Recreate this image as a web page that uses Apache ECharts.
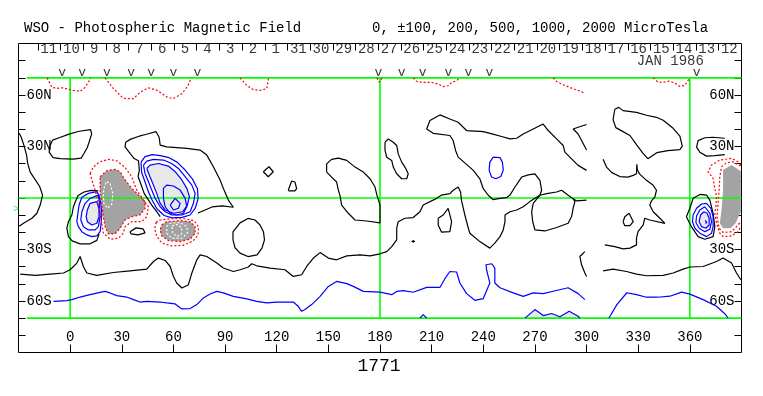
<!DOCTYPE html>
<html><head><meta charset="utf-8">
<script src="https://cdn.jsdelivr.net/npm/echarts@6/dist/echarts.min.js"></script>
<style>html,body{margin:0;padding:0;background:#fff}#c{width:763px;height:396px}</style>
</head><body><div id="c"></div>
<script>
// ---------- texts / ticks ----------
const titleText = 'WSO - Photospheric Magnetic Field';
const scaleText = '0, \u00B1100, 200, 500, 1000, 2000 MicroTesla';
const rotationText = '1771';
const monthText = 'JAN 1986';
const lonTicks = [0,30,60,90,120,150,180,210,240,270,300,330,360];
const latTicks = [-80,-70,-60,-50,-40,-30,-20,-10,0,10,20,30,40,50,60,70,80];
const latLabels = [60,30,-30,-60];
const dayNumbers = ['11','10','9','8','7','6','5','4','3','2','1','31','30','29','28','27','26','25','24','23','22','21','20','19','18','17','16','15','14','13','12'];
const dayTicks = [-18.75,-5.57,7.61,20.79,33.97,47.15,60.33,73.51,86.69,99.87,113.05,126.23,139.41,152.59,165.77,178.95,192.13,205.31,218.49,231.67,244.85,258.03,271.21,284.39,297.57,310.75,323.93,337.11,350.29,363.47,376.65];
const vMarks = [-4.6,7,21.3,35.4,47,60,73.9,179,192.6,204.8,219.7,231.3,243.5,363.9];
const greenLat = [70,0,-70];
const greenLon = [0,180,360];

// ---------- negative (red dotted) contours ----------
const red1 = [[-13.4,70],[-10.5,64.4],[-7.5,63.9],[-4.1,64.2],[1.2,62.7],[5.8,62.1],[8.7,64.4],[11.6,69.1],[12,70]];
const red2 = [[20.3,70],[25,63.9],[30.8,58.1],[36.6,57.8],[40.6,61.5],[45.3,64.2],[50.5,62.7],[56.3,58.8],[59.8,57.9],[65,60.8],[68.5,65.6],[70.3,70]];
const red3 = [[98.7,70],[102.6,65.6],[106.4,63.1],[110.3,62.7],[114.2,63.7],[115.1,68.5],[115.1,70]];
const red3b = [[178.3,70],[179.3,67.5],[180.5,68.5],[181.2,70]];
const red4 = [[199.3,70],[201.3,67.9],[205.1,67.3],[210,67.3],[213.8,66.4],[216.7,64.9],[219.6,65.4],[221.6,67.3],[224.5,68.3],[226.4,70]];
const red5 = [[280.6,70],[282.6,67.9],[286.4,66],[290.3,64.4],[294.2,62.9],[297.1,62.1],[299,60.6]];
const red6 = [[338.7,70],[341.6,67.5],[344.5,67.5],[348.4,68.1],[351.3,66.9],[354.2,65],[357.1,65.6],[359,68.5],[360,70]];
const redL1 = [[11.6,14.3],[13.5,18.2],[17.4,21.1],[22.2,22.5],[27.1,21.7],[31.9,17.8],[35.8,12.4],[38.7,4.6],[42.6,-1.2],[45.5,-5.1],[44.5,-10.9],[41.6,-13.8],[35.8,-13.8],[31.9,-16.7],[30.9,-20.5],[28,-23.4],[23.2,-24],[19.3,-20.5],[18.4,-14.7],[17.4,-8.9],[16.4,-3.1],[14.5,4.6],[12.6,10.5]];
const redL2 = [[17.4,12.4],[21.3,15.9],[26.1,16.7],[29,15.3],[31.9,10.5],[35.8,5.6],[39.7,1.7],[43.5,-2.1],[43.5,-6],[40.6,-9.9],[35.8,-10.9],[31.9,-12.8],[29,-17.6],[26.1,-20.9],[22.2,-20.9],[20.3,-16.7],[19.3,-10.9],[18.4,-3.1],[17.4,4.6]];
const redB1 = [[49.9,-14.2],[52.3,-12.8],[58.1,-12.1],[66.8,-12.1],[72,-13.3],[74.6,-16.9],[74.3,-21.5],[71.4,-25],[65.6,-27.6],[58.6,-27.9],[53.1,-26.1],[50.2,-22.1],[49.1,-18]];
const redB2 = [[53.2,-15.7],[56.1,-13.8],[63.9,-13.2],[69.7,-13.8],[72.6,-16.7],[72.6,-20.5],[69.7,-24],[63.9,-25.4],[57.1,-24.8],[53.2,-22.1],[52.3,-18.6]];
const redE1 = [[389.6,19.2],[388,21.1],[384.2,23.1],[377.4,22.1],[372.6,19.2],[370.6,15.3],[373.5,11.4],[374.5,5.6],[375.5,0.8],[375.1,-5.1],[374.5,-8.9],[375.5,-14.7],[377.4,-20.5],[379.3,-22.5],[384.2,-22.1],[388,-19.6],[389.6,-16.7]];
const redE2 = [[389.6,18.6],[388.6,19.2],[385.1,21.1],[381.3,20.5],[378.4,18.2],[377.4,12.4],[377,4.6],[376.4,-3.1],[375.8,-10.9],[377,-17.6],[379.3,-20.1],[384.2,-19.6],[387.1,-16.7],[389.6,-13.9]];
const greyE = [[379.3,16.3],[384.2,19.2],[388.6,16.3],[389.6,15.7],[389.6,-8.1],[386.5,-14.7],[383.6,-17.6],[379.3,-17.6],[377.4,-14.7],[378.4,-7],[379.3,4.6],[379.3,14.5]];
const whiteL = [[21.3,9.5],[23.2,8.5],[24.8,2.7],[24.2,-3.5],[21.8,-6],[19.6,-3.1],[19.2,2.7],[20.1,7.5]];
const whiteB1 = [[56.1,-16.7],[58.1,-14.7],[63.9,-14.3],[67.8,-16.7],[68.1,-20.5],[64.9,-23.4],[59,-23.4],[56.1,-20.5]];
const whiteB2 = [[59.2,-16.3],[62.1,-15.4],[64.8,-17.4],[64.8,-20.9],[62.1,-22.4],[59.5,-20.3]];

// ---------- positive (blue) contours ----------
const blueS1 = [[-9.7,-60.2],[-1.9,-59.8],[1,-59.2],[5.8,-57.7],[11.6,-56.3],[17.4,-55],[20.3,-54.4],[23.2,-55.3],[27.1,-56.9],[32.9,-57.7],[36.8,-59.2],[40.6,-60.6],[44.5,-60.2],[52.3,-60.6],[56.1,-61.1],[61,-61.7],[64.9,-64.6],[69.7,-64.4],[73.6,-62.1],[77.4,-58.2],[81.3,-55.9],[85.2,-54.4],[89,-55.3],[94.8,-57.3],[102.6,-58.8],[108.4,-60.2],[114.2,-61.1],[120,-60.6],[129.6,-60.6],[132.5,-63.1],[134.5,-66],[136.4,-65],[140.3,-62.1],[145.2,-57.3],[150,-51.5],[154.8,-48.6],[160.7,-49.9],[164.5,-51.5],[170.3,-54.4],[180,-54.8],[186.8,-56.3],[189.7,-54.4],[193.5,-54],[199.3,-54.9],[207.1,-52.1],[214.8,-52.1],[217.7,-47],[220.6,-42.8],[224.5,-43.1],[226.4,-49.5],[230.3,-55.7],[235.1,-59.6],[240,-58.6],[243.8,-49.5],[241.9,-41.8],[241.6,-38.9],[244.9,-38.3],[246.7,-40.8],[246.7,-49.5],[249.7,-52.3],[257.4,-55.3],[263.2,-57.3],[269,-55.3],[274.8,-55.7],[280.6,-54.3],[289.3,-52.3],[295.1,-55.7],[299,-59.2]];
const blueS2 = [[313,-69.9],[317.6,-62.1],[323.4,-55.2],[329,-56.3],[334.8,-57.8],[341.4,-57.8],[348.4,-57.2],[355.2,-54.8],[360,-56],[367.7,-59.2],[375.5,-63.1],[380.3,-67.4],[382.2,-69.9]];
const blueBump1 = [[203.2,-70],[205.1,-67.9],[207.1,-70]];
const blueBump2 = [[264.2,-70],[270,-65],[274.8,-68.5],[279.7,-67.3],[284.5,-69.2],[289.9,-66],[295.1,-68.9],[296.1,-70]];
const blueLoop = [[245.8,23.8],[249.7,23.5],[251.1,20.9],[251.6,16.3],[250.2,12.5],[247.3,11.2],[244.8,12.2],[243.4,16.1],[243.8,20.9]];
const blueL1 = [[15.5,3.7],[10.6,2.7],[6.8,0.4],[5.2,-4.1],[4.5,-8.9],[3.9,-13.8],[4.8,-16.7],[6.8,-19.6],[9.7,-21.5],[12.6,-22.5],[15.5,-22.1],[17.4,-19.6],[18,-14.7],[18.4,-8.9],[17.8,-3.1],[16.8,1.7]];
const blueL2 = [[16.4,1.7],[11.6,-0.2],[8.7,-3.1],[6.8,-8],[6.2,-12.8],[7.7,-16.7],[10.6,-18.6],[14.5,-18.6],[16.4,-16.7],[17.4,-10.9],[17,-3.1]];
const blueL3 = [[15.5,-2.1],[11.6,-3.1],[10,-7],[9.3,-10.9],[10,-13.8],[12.6,-15.7],[15.5,-14.7],[16.8,-10.9],[16.7,-6]];
const blueR1 = [[41.2,20.9],[43.5,24.1],[47.6,25.3],[52.3,24.7],[57.5,23.5],[62.1,20.9],[66.8,16.3],[71.1,11],[74,5.2],[74.3,-0.6],[72.6,-6.1],[69.7,-9.9],[65,-11.3],[59.2,-11.6],[54.6,-10.2],[50.5,-6.4],[47.6,-1.2],[45.3,4.1],[43.3,9.9],[41.5,15.1]];
const blueR2 = [[42.6,19.2],[44.5,21.5],[48.4,22.5],[54.2,22.1],[59,20.1],[62.9,17.2],[66.8,12.4],[70.7,7.5],[72.6,2.7],[71.6,-3.1],[69.7,-8],[64.9,-9.9],[59,-9.9],[55.2,-8],[52.3,-5.1],[49.4,-0.2],[47.4,4.6],[45.5,9.5],[43.5,14.3]];
const blueR3 = [[44.5,17.2],[46.4,19.2],[51.3,20.1],[57.1,18.6],[61,15.3],[64.9,10.5],[67.8,5.6],[69.3,0.8],[68.1,-4.1],[65.4,-8],[60,-8.9],[55.2,-7],[52.3,-3.1],[50.3,2.7],[48.4,7.5],[46.4,12.4]];
const blueR4 = [[54.2,-0.2],[54.2,5.6],[56.1,7.5],[60,7],[63.9,4.6],[66.8,-0.2],[67.8,-5.1],[65.8,-8.9],[61.9,-9.9],[58.1,-8.9],[55.2,-5.1]];
const blueR5 = [[58.1,-4.1],[61,-0.2],[63.9,-3.1],[62.9,-6],[60,-7]];
const blueE1 = [[369.7,-3.1],[366.8,-3.5],[363.9,-6],[361.9,-9.9],[361.5,-13.8],[362.9,-17.6],[365.8,-20.5],[369.7,-22.5],[372.6,-20.5],[373.5,-16.7],[373.5,-10.9],[372.2,-6]];
const blueE2 = [[368.7,-5.1],[365.8,-7],[363.9,-10.5],[363.5,-14.3],[365.4,-17.6],[368.7,-19.6],[371.6,-18.2],[372.6,-13.8],[371.6,-8.9]];
const blueE3 = [[368.1,-8],[366.2,-9.9],[365.4,-13.8],[366.8,-16.7],[369.3,-17.6],[371.2,-15.7],[371.2,-11.8],[370,-8.9]];
const blueE4 = [[369,-13],[369.8,-13.3],[369.8,-14.5],[369,-14.6]];

// ---------- neutral line (black) contours ----------
const blk1 = [[-10.2,33.7],[-6.4,35.1],[-0.6,37.2],[5.2,38.9],[11.9,39.8],[12.5,37.2],[11,32.5],[9.9,29.3],[8.1,26.1],[6.4,23.2],[1.7,22.6],[-5.8,22.9],[-9.9,23.5],[-12.2,26.7],[-11.6,30.8]];
const blk2 = [[-29.6,37.7],[-28.4,35.4],[-26.7,30.2],[-25.3,25],[-24.7,20.3],[-23.2,15.1],[-20.3,10.7],[-17.7,6.7],[-16,1.7],[-17.4,-4.1],[-19.3,-8.9],[-22.2,-11.8],[-27.1,-14.7],[-29.6,-16.5]];
const blk3 = [[16.3,4.1],[12.2,4.4],[8.1,3.5],[4.6,1.5],[3.2,-1.7],[1.9,-5.1],[1,-9.9],[-1,-13.8],[-1.9,-17.6],[-1,-22.5],[1.2,-25],[5.8,-26.7],[11.6,-26.7],[15.5,-24.7],[16.8,-20.9]];
const blk4 = [[52.3,-10.9],[50.3,-8],[47.4,-4.1],[45.5,-1.2],[43,2.7],[40.6,9.5],[39.5,12.4],[40.2,16.3],[39.7,21.7],[37.2,23],[34.8,26],[31.9,29.8],[32.3,32.5],[35.2,34.3],[40.1,36],[44.9,37.3],[49.8,38.7],[51.7,35.4],[52.3,30.8],[56.1,29.8],[67.8,28.9],[75.5,27.9],[79.4,25],[83.2,18.2],[87.1,10.5],[89.4,4.6],[91.9,-1.2],[94.8,-5.4],[88.3,-4.6],[82.4,-5.2],[78.4,-7],[74.3,-8.7]];
const blk5 = [[94.6,-19.7],[98.7,-14.5],[103.3,-11.9],[107.4,-12.8],[110.3,-15.7],[112.3,-19.7],[112.9,-24.4],[111.5,-29],[108.6,-33.1],[103.3,-34.1],[98.7,-32.1],[95.8,-29],[94.6,-24.4]];
const blk6 = [[149,15.1],[149,19.9],[151.9,22.5],[155.8,23.2],[160.7,21.9],[165.5,18],[170.3,15.1],[174.2,11.2],[177.1,6.4],[178.2,1.7],[180,-4.1],[180,-14.5],[172.3,-13.4],[165.5,-12.8],[161.6,-8.9],[157.7,-4.1],[156.8,1.2],[155.8,4.6],[154.8,9.3],[151.9,12.2]];
const blk7 = [[182.9,32.5],[184.8,34.4],[187.7,32.5],[189.7,30.6],[190.6,25.7],[192.6,20.9],[194.5,18],[196.4,14.1],[195.5,11.2],[192.6,11.2],[189.7,14.1],[187.7,18],[186.8,21.9],[183.9,23.8],[182.9,27.7]];
const blk8 = [[300,16.1],[295.1,19],[291.3,22.8],[287.4,26.7],[286.4,30.6],[282.6,34.4],[277.7,39.3],[274.8,43.1],[269,40.2],[263.2,37.3],[259.4,34.8],[255.5,34.4],[250.6,35.8],[245.6,37.2],[240,38.7],[230.3,39.3],[225.4,44.1],[220.6,46],[214.8,48.4],[209,45.1],[207.1,40.2],[210.9,37.7],[220.6,36.4],[222.5,33.5],[223.9,27.7],[225.4,23.8],[230.3,19.6],[234.2,16.1],[238,11.2],[240,5.4],[242.9,1.6],[245.6,-0.9],[249.7,-0.2],[253.5,0.2],[255.5,1.7],[258.4,6.4],[262.3,12.2],[266.1,13.5],[270,14.1],[272.9,10.3],[273.9,4.5],[272.9,1.6]];
const blk9 = [[272.9,1.6],[269,-3.1],[268.1,-8],[268.7,-13.7],[270,-18.6],[275.8,-19.2],[282.6,-17.2],[289.3,-14.7],[291.3,-10.8],[292.2,-5.9],[293.2,-2.1],[292.2,-0.4]];
const blk11 = [[-29,-44.3],[-20.3,-45.1],[-11.6,-44.3],[-3.9,-43.7],[0,-41.8],[3.9,-37.9],[5.8,-34.1],[7.7,-39.9],[9.7,-43.7],[15.5,-45.1],[25.1,-43.4],[34.8,-42.4],[44.5,-41.4],[48.4,-37],[51.3,-35],[55.2,-36.4],[58.1,-39.9],[60,-45.7],[61.9,-49.5],[64.9,-52.4],[68.7,-50.5],[70.7,-43.7],[73.6,-36],[75.5,-33.1],[79.4,-34.1],[85.2,-37.9],[89,-40.8],[94.8,-42.8],[98.7,-41.8],[103.5,-40.2],[105.5,-38.3],[108.4,-39.5],[116.1,-40.8],[124.8,-41.8],[129.6,-45.7],[134.5,-44.7],[137.4,-39.9],[141.3,-35],[145.2,-31.8],[150,-35],[154.8,-36],[160.7,-33.7],[168.4,-33.1],[174.2,-33.7],[180,-32.5],[183.9,-31.2],[186.8,-28.3],[189.7,-24.4],[189.7,-17.6],[190.6,-13.8],[194.5,-11.8],[199.3,-11.4],[203.2,-8],[205.1,-4.1],[212.9,-0.2],[215.8,1.7],[220.6,2.5],[222.5,4.5],[225.4,6.4],[226.8,3.5],[227.4,-1.7],[229.3,-9.9],[231.3,-17.6],[232.2,-20.5],[238,-25.4],[243.8,-29.2],[246.7,-26.3],[249.7,-22.5],[251.6,-18.6],[252.6,-13.8],[252.6,-9.9],[255.5,-8],[259.4,-7],[263.2,-5.1],[267.1,-2.1],[270,-0.2],[272.9,1.6],[276.8,2.5],[282.6,3.5],[285.5,4.5],[289.3,1.6],[292.2,-0.4],[294.2,-1.7],[300,-1.2]];
const blk12 = [[300,42.8],[295.1,41.2],[292.2,40.2],[295.1,37.3],[297.1,33.5],[300,28]];
const blk13 = [[309.6,22.6],[311.6,18],[314.7,14.8],[319.3,12.5],[324,12.2],[327.1,13.2],[329,14.1],[329.2,19.7],[329.5,16.3],[330.9,13.9],[334.8,10.3],[338.7,7.4],[340.6,4.5],[339.7,0.6],[337.7,-1.7],[336.7,-4.1],[338.7,-8],[342.6,-11.8],[345.5,-14.8],[336.7,-12.8],[333.8,-11.8],[332.9,-15.7],[329.9,-19.6],[329,-23.4],[329,-27.3],[325.2,-29.2],[321.2,-29.6],[316.4,-28.3],[310.6,-27.3]];
const blk15 = [[321.2,-13.8],[322.2,-10.9],[324.7,-8.9],[327.1,-13.8],[325.2,-16.1],[322.2,-16.1]];
const blk16 = [[299,-31.2],[296.1,-34.1],[297.1,-38.9],[299,-43.7],[300,-45.7]];
const blk17 = [[309.6,-42.4],[315.4,-41.4],[323.2,-42.8],[329,-44.3],[334.8,-45.3],[344.5,-45.1],[350.3,-43.7],[356.1,-41.4],[360,-40.2],[367.7,-39.9],[375.5,-37],[379.3,-35],[384.2,-37.9],[387.1,-43.7],[389.6,-47.6]];
const blk18 = [[365.8,2.1],[369.7,1.7],[371.6,-1.2],[373.5,-8.9],[374.5,-16.7],[373.5,-22.5],[368.7,-24],[364.8,-22.5],[360.9,-16.7],[358,-10.9],[360,-6],[361.9,-0.2]];
const blk19 = [[380.3,34.8],[373.3,35.4],[368.7,35.1],[364.8,33.4],[363.9,29.6],[365.8,26.7],[369.7,24.4],[374.5,24.7],[380.3,25.3]];
const blk20 = [[316.4,51.7],[318.7,52.8],[321.2,50.9],[329,49.9],[334.8,48.2],[340.6,47],[344.5,45.3],[350.3,40.6],[354.2,36],[355.6,30.2],[354.2,28.2],[347.2,27.6],[340.8,26.4],[335.6,22.9],[332.7,26.1],[329.2,30.8],[325.2,36.4],[320.4,39.1],[317,41],[315.4,45.6]];
const blk21 = [[213.8,-11.8],[216.7,-9.9],[219.6,-6],[221.6,-13.8],[220.6,-19.6],[215.8,-19.9],[213.8,-15.7]];
const blkS1 = [[34.8,-19.6],[38.3,-17.4],[42.4,-18],[43.5,-20.3],[39.5,-21.5],[35.4,-20.9]];
const blkS2 = [[112.2,15.3],[115.5,18.2],[118,15.3],[115.1,12.4]];
const blkS3 = [[126.7,4.5],[128.7,9.9],[130.6,9.3],[131.6,5.4],[130.6,4.1],[127.3,4.1]];
const blkX1 = [[198.3,-25.3],[200.3,-25.3]];
const blkX2 = [[199.3,-24.5],[199.3,-26.1]];

// ---------- build ----------
const close = a => a.concat([a[0]]);
const MONO = '"Liberation Mono", "DejaVu Sans Mono", monospace';
function line(data, color, dash, z, w) {
  return {type:'line', data, symbol:'none', showSymbol:false, silent:true, animation:false, z: z || 3,
    lineStyle:{color, width: w || 1.2, type: dash || 'solid'}};
}
function fill(poly, color) {
  return {type:'custom', data:[[0,0]], z:1, silent:true, animation:false,
    renderItem:(p, api) => ({type:'polygon', shape:{points: poly.map(pt => api.coord(pt))}, style:{fill:color}})};
}
const RED = '#ff0000', BLUE = '#0000ff', BLK = '#000000', GRN = '#00ff00';
const DOT = [2,2];
const series = [];
series.push(fill(redL2, '#a3a3a3'), fill(redB2, '#a3a3a3'), fill(greyE, '#a3a3a3'));
series.push(fill(blueL3, '#e8e8e8'), fill(blueR3, '#e8e8e8'), fill(blueE3, '#e8e8e8'), fill(blueBump2, '#e8e8e8'));
greenLat.forEach(v => series.push(line([[v === 0 ? -30 : -25.2, v],[390, v]], GRN, 'solid', 2, 1.6)));
greenLon.forEach(v => series.push(line([[v, -70],[v, 70]], GRN, 'solid', 2, 1.6)));
[blk1, blk5, blk6, blk7, blk15, blk18, blk20, blk21, blkS1, blkS2, blkS3].forEach(c => series.push(line(close(c), BLK)));
[blk2, blk3, blk4, blk8, blk9, blk11, blk12, blk13, blk16, blk17, blk19, blkX1, blkX2].forEach(c => series.push(line(c, BLK)));
[blueLoop, blueL1, blueL2, blueL3, blueR1, blueR2, blueR3, blueR4, blueR5, blueE1, blueE2, blueE3].forEach(c => series.push(line(close(c), BLUE)));
[blueS1, blueS2, blueBump1, blueBump2, blueE4].forEach(c => series.push(line(c, BLUE)));
[redL1, redL2, redB1, redB2].forEach(c => series.push(line(close(c), RED, DOT, 4)));
[red1, red2, red3, red3b, red4, red5, red6, redE1, redE2].forEach(c => series.push(line(c, RED, DOT, 4)));
[whiteL, whiteB1, whiteB2].forEach(c => series.push(line(close(c), '#ffffff', DOT, 5)));
function textSeries(data, fmt, size, color, clip) {
  return {type:'scatter', data, symbolSize:1, itemStyle:{color:'rgba(0,0,0,0)'}, silent:true, animation:false, z:6, clip: clip !== false,
    label:{show:true, position:'inside', formatter: fmt, color: color || '#000', fontFamily: MONO, fontSize: size}};
}
series.push(textSeries(dayNumbers.map((d, i) => [dayTicks[i] + 6.3, 86.4, d]), p => p.data[2], 14));
series.push(textSeries(vMarks.map(v => [v, 72.8]), () => 'v', 13));
series.push(textSeries([[348.6, 79.7, monthText]], p => p.data[2], 14));
series.push(textSeries([[-31.4, -6.4]], () => '>', 10, GRN, false));

const noLine = {show:false, onZero:false};
const chart = echarts.init(document.getElementById('c'), null, {renderer:'canvas'});
chart.setOption({
  backgroundColor:'#ffffff',
  animation:false,
  grid:{left:18.5, right:21.5, top:43.5, bottom:43.5, show:true, borderColor:'#000', borderWidth:1, backgroundColor:'transparent'},
  xAxis:[
    {type:'value', min:-30, max:390, position:'bottom', splitLine:{show:false}, axisLine:noLine,
     axisTick:{show:true, inside:true, length:8, customValues: lonTicks, lineStyle:{color:'#000'}},
     axisLabel:{show:true, inside:true, margin:8, customValues: lonTicks, color:'#000', fontFamily:MONO, fontSize:14}},
    {type:'value', min:-30, max:390, position:'top', splitLine:{show:false}, axisLine:noLine,
     axisTick:{show:true, inside:true, length:7, customValues: dayTicks, lineStyle:{color:'#000'}},
     axisLabel:{show:false}}
  ],
  yAxis:[
    {type:'value', min:-90, max:90, position:'left', splitLine:{show:false}, axisLine:noLine,
     axisTick:{show:true, inside:true, length:7, customValues: latTicks, lineStyle:{color:'#000'}},
     axisLabel:{show:true, inside:true, margin:8, customValues: latLabels, color:'#000', fontFamily:MONO, fontSize:14,
       formatter: v => Math.abs(v) + (v > 0 ? 'N' : 'S')}},
    {type:'value', min:-90, max:90, position:'right', splitLine:{show:false}, axisLine:noLine,
     axisTick:{show:true, inside:true, length:7, customValues: latTicks, lineStyle:{color:'#000'}},
     axisLabel:{show:true, inside:true, margin:7, customValues: latLabels, color:'#000', fontFamily:MONO, fontSize:14,
       formatter: v => Math.abs(v) + (v > 0 ? 'N' : 'S')}}
  ],
  graphic:[
    {type:'text', x:24, y:28, style:{text:titleText, font:'14px ' + MONO, fill:'#000', verticalAlign:'middle'}},
    {type:'text', x:372, y:28, style:{text:scaleText, font:'14px ' + MONO, fill:'#000', verticalAlign:'middle'}},
    {type:'text', x:379, y:366, style:{text:rotationText, font:'18px ' + MONO, fill:'#000', align:'center', verticalAlign:'middle'}}
  ],
  series
});
</script>
</body></html>
